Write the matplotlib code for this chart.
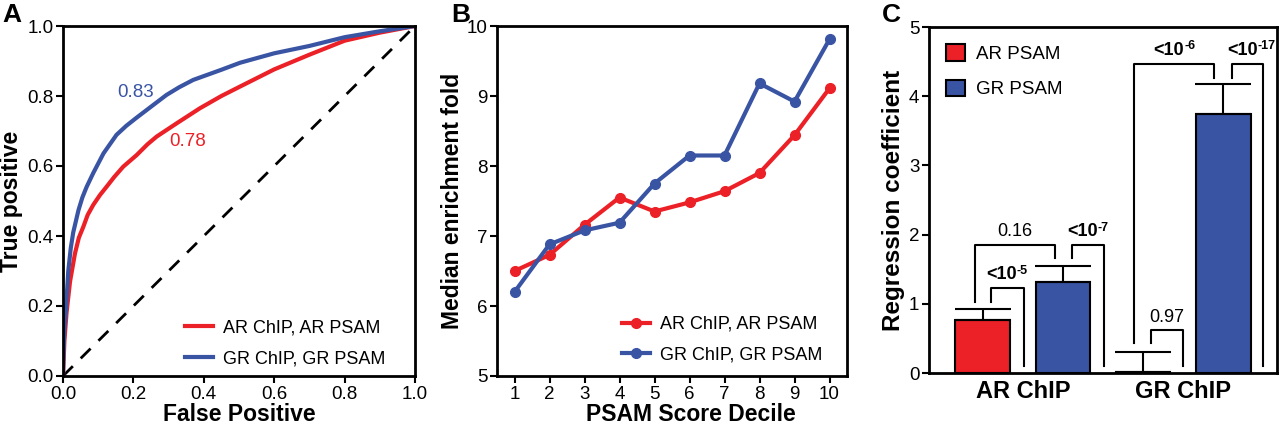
import matplotlib
matplotlib.use('Agg')
import matplotlib.pyplot as plt
from matplotlib.patches import Patch

plt.rcParams['font.family'] = ['Liberation Sans', 'DejaVu Sans']

RED = '#EC2027'
BLUE = '#3A54A4'

# Panel A: ROC curves
gr_fpr = [0.0, 0.003, 0.009, 0.015, 0.022, 0.029, 0.044, 0.055, 0.067, 0.086, 0.1, 0.115,
          0.152, 0.18, 0.209, 0.256, 0.294, 0.33, 0.37, 0.45, 0.503, 0.6, 0.7, 0.8, 0.9, 1.0]
gr_tpr = [0.0, 0.12, 0.2, 0.3, 0.365, 0.41, 0.474, 0.51, 0.54, 0.58, 0.607, 0.636,
          0.689, 0.715, 0.738, 0.774, 0.803, 0.825, 0.846, 0.875, 0.895, 0.922, 0.943, 0.968, 0.985, 1.0]
ar_fpr = [0.0, 0.004, 0.01, 0.02, 0.034, 0.045, 0.058, 0.07, 0.086, 0.105, 0.124, 0.145, 0.171,
          0.209, 0.24, 0.266, 0.323, 0.389, 0.45, 0.503, 0.6, 0.7, 0.8, 0.9, 1.0]
ar_tpr = [0.0, 0.1, 0.18, 0.27, 0.35, 0.395, 0.427, 0.46, 0.489, 0.517, 0.541, 0.568, 0.598,
          0.631, 0.662, 0.684, 0.722, 0.765, 0.8, 0.827, 0.876, 0.918, 0.958, 0.981, 1.0]
auc_ar = '0.78'
auc_gr = '0.83'

# Panel B: median enrichment per decile
deciles = [1, 2, 3, 4, 5, 6, 7, 8, 9, 10]
ar_enrich = [6.50, 6.73, 7.16, 7.55, 7.35, 7.48, 7.64, 7.90, 8.44, 9.11]
gr_enrich = [6.20, 6.88, 7.08, 7.19, 7.75, 8.15, 8.15, 9.18, 8.92, 9.81]

# Panel C: regression coefficients
groups = ['AR ChIP', 'GR ChIP']
coef = [0.77, 1.32, 0.01, 3.75]
coef_err = [0.15, 0.23, 0.30, 0.42]
bar_psam = ['AR', 'GR', 'AR', 'GR']
# brackets: x left, x right, y left end, y top, y right end, p-value, exponent (None = plain)
brackets = [
    (0.10, 0.51, 1.03, 1.23, 0.10, '<10', '-5'),
    (-0.10, 0.90, 1.03, 1.85, 1.66, '0.16', None),
    (1.11, 1.51, 1.66, 1.85, 0.10, '<10', '-7'),
    (2.10, 2.50, 0.43, 0.615, 0.10, '0.97', None),
    (1.89, 2.89, 0.43, 4.47, 4.27, '<10', '-6'),
    (3.11, 3.50, 4.27, 4.47, 0.10, '<10', '-17'),
]

fig = plt.figure(figsize=(12.8, 4.25), dpi=100)
axA = fig.add_axes([63 / 1280, 49 / 425, 352 / 1280, 350 / 425])
axB = fig.add_axes([497 / 1280, 49 / 425, 350 / 1280, 350 / 425])
axC = fig.add_axes([929 / 1280, 52 / 425, 348 / 1280, 346 / 425])

for ax in (axA, axB, axC):
    for s in ax.spines.values():
        s.set_linewidth(2)
    ax.tick_params(direction='out', length=5, width=1.5, labelsize=13.5, pad=2)

# --- A ---
axA.plot([0, 1], [0, 1], 'k--', lw=2, dashes=(5, 4))
axA.plot(ar_fpr, ar_tpr, color=RED, lw=3, label='AR ChIP, AR PSAM')
axA.plot(gr_fpr, gr_tpr, color=BLUE, lw=3, label='GR ChIP, GR PSAM')
axA.text(0.205, 0.81, auc_gr, color=BLUE, fontsize=13.5, ha='center', va='center')
axA.text(0.355, 0.669, auc_ar, color=RED, fontsize=13.5, ha='center', va='center')
axA.set_xlim(0, 1)
axA.set_ylim(0, 1)
ticks = [0, 0.2, 0.4, 0.6, 0.8, 1.0]
axA.set_xticks(ticks)
axA.set_yticks(ticks)
axA.set_xticklabels(['%.1f' % t for t in ticks])
axA.set_yticklabels(['%.1f' % t for t in ticks])
axA.set_xlabel('False Positive', fontsize=16.5, fontweight='bold', labelpad=0)
axA.set_ylabel('True positive', fontsize=16.5, fontweight='bold', labelpad=3)
axA.legend(loc='lower right', bbox_to_anchor=(0.935, 0.005), frameon=False, fontsize=13,
           handlelength=1.55, handletextpad=0.55, labelspacing=0.75, borderaxespad=0)

# --- B ---
axB.plot(deciles, ar_enrich, '-o', color=RED, lw=3, ms=7, label='AR ChIP, AR PSAM')
axB.plot(deciles, gr_enrich, '-o', color=BLUE, lw=3, ms=7, label='GR ChIP, GR PSAM')
axB.set_xlim(0.5, 10.5)
axB.set_ylim(5, 10)
axB.set_xticks(deciles)
axB.set_yticks([5, 6, 7, 8, 9, 10])
axB.set_xlabel('PSAM Score Decile', fontsize=16.5, fontweight='bold', labelpad=0)
axB.xaxis.label.set_x(0.554)
axB.set_ylabel('Median enrichment fold', fontsize=16.5, fontweight='bold', labelpad=2)
axB.legend(loc='lower right', bbox_to_anchor=(0.95, 0.015), frameon=False, fontsize=13,
           handlelength=1.55, handletextpad=0.55, labelspacing=0.75, borderaxespad=0)

# --- C ---
xpos = list(range(len(coef)))
colors = [RED if p == 'AR' else BLUE for p in bar_psam]
axC.bar(xpos, coef, width=0.68, color=colors, edgecolor='black', linewidth=1.5)
axC.errorbar(xpos, coef, yerr=[[0] * len(coef), coef_err], fmt='none', ecolor='black',
             elinewidth=1.5, capsize=20, capthick=1.5)
for xl, xr, yl, yt, yr, lab, expo in brackets:
    axC.plot([xl, xl, xr, xr], [yl, yt, yt, yr], color='black', lw=1.5)
    xm = (xl + xr) / 2
    if expo is None:
        axC.text(xm, yt + 0.07, lab, fontsize=13, ha='center', va='bottom')
    else:
        base = axC.text(xm - 0.07, yt + 0.07, lab, fontsize=13, fontweight='bold',
                        ha='center', va='bottom')
        axC.annotate(expo, xy=(1, 1), xycoords=base, xytext=(0, 1),
                     textcoords='offset points', fontsize=9, fontweight='bold',
                     ha='left', va='top')
axC.set_xlim(-0.67, 3.67)
axC.set_ylim(0, 5)
axC.set_yticks([0, 1, 2, 3, 4, 5])
axC.set_xticks([0.5, 2.5])
axC.set_xticklabels(groups, fontsize=17, fontweight='bold')
axC.tick_params(axis='x', length=0, pad=5)
axC.set_ylabel('Regression coefficient', fontsize=17.5, fontweight='bold', labelpad=3)
handles = [Patch(facecolor=RED, edgecolor='black', lw=1.5, label='AR PSAM'),
           Patch(facecolor=BLUE, edgecolor='black', lw=1.5, label='GR PSAM')]
axC.legend(handles=handles, loc='upper left', frameon=False, fontsize=13.5,
           handlelength=1.0, handleheight=1.0, handletextpad=0.6, labelspacing=0.9,
           borderaxespad=0.5)

fig.text(2 / 1280, 1 - 3 / 425, 'A', fontsize=19, fontweight='bold', va='top')
fig.text(451 / 1280, 1 - 3 / 425, 'B', fontsize=19, fontweight='bold', va='top')
fig.text(882 / 1280, 1 - 3 / 425, 'C', fontsize=19, fontweight='bold', va='top')

fig.savefig('out.png', dpi=100)
